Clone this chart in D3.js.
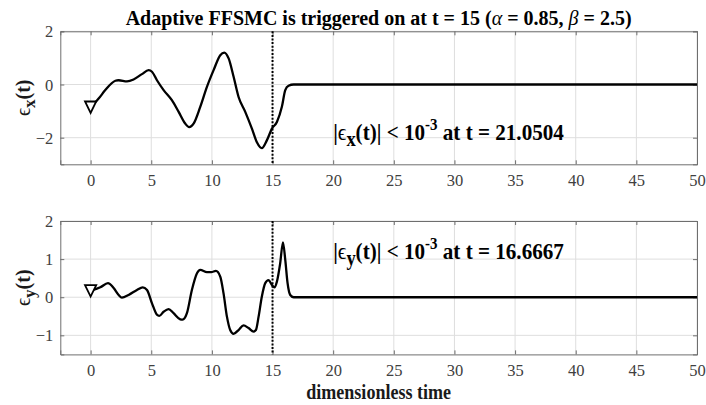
<!DOCTYPE html>
<html>
<head>
<meta charset="utf-8">
<script src="https://cdn.jsdelivr.net/npm/d3@7"></script>
<style>
  html, body { margin: 0; padding: 0; background: #fff; }
  svg { display: block; }
</style>
</head>
<body>
<svg id="chart" width="706" height="405"></svg>
<script>
// Tracking error in x: time samples and values
const tX = [0, 0.66, 1.21, 2.04, 2.31, 3.0, 3.54, 4.23, 4.78, 5.06,
            5.47, 6.02, 6.7, 7.26, 7.8, 8.13, 8.49, 9.04, 9.59, 10.14,
            10.69, 11.02, 11.38, 11.79, 12.2, 12.75, 13.3, 13.71, 14.12, 14.53,
            14.95, 15.36, 15.77, 16.05, 16.32, 16.74, 20, 30, 40, 50];
const errX = [-0.85, -0.53, -0.21, 0.14, 0.16, 0.12, 0.19, 0.39, 0.54, 0.48,
              0.16, -0.21, -0.59, -1.03, -1.47, -1.6, -1.47, -0.84, -0.09, 0.54,
              1.1, 1.2, 0.98, 0.29, -0.47, -1.03, -1.66, -2.17, -2.39, -2.1,
              -1.66, -1.41, -0.84, -0.21, -0.05, 0, 0, 0, 0, 0];

// Tracking error in y: time samples and values
const tY = [0, 0.8, 1.43, 1.9, 2.31, 2.58, 3.13, 3.82, 4.29, 4.65,
            5.06, 5.47, 5.66, 6.02, 6.43, 6.84, 7.39, 7.58, 7.94, 8.35,
            8.77, 9.04, 9.59, 9.95, 10.33, 10.69, 10.96, 11.24, 11.51, 11.79,
            12.2, 12.61, 13.02, 13.44, 13.63, 13.85, 14.12, 14.4, 14.67, 14.95,
            15.15, 15.36, 15.63, 15.86, 16.05, 16.24, 16.46, 16.74, 20, 30,
            40, 50];
const errY = [0.17, 0.26, 0.37, 0.24, 0.06, -0.01, 0.06, 0.19, 0.26, 0.19,
              -0.16, -0.46, -0.49, -0.38, -0.31, -0.42, -0.58, -0.59, -0.42, 0.19,
              0.63, 0.72, 0.66, 0.66, 0.69, 0.54, 0.1, -0.51, -0.86, -0.96,
              -0.86, -0.74, -0.81, -0.9, -0.86, -0.51, 0.02, 0.37, 0.45, 0.32,
              0.26, 0.41, 0.89, 1.44, 0.98, 0.37, 0.06, 0, 0, 0,
              0, 0];

// Axis settings
const xDomain = [-2.5, 50];
const xTicks = [0, 5, 10, 15, 20, 25, 30, 35, 40, 45, 50];
const yDomainX = [-3, 2];
const yTicksX = [-2, 0, 2];
const yDomainY = [-1.5, 2];
const yTicksY = [-1, 0, 1, 2];
const triggerTime = 15;

// Annotation anchors (data coordinates) and texts
const annotX = { t: 20, v: -2.07, value: "21.0504", sub: "x" };
const annotY = { t: 20, v: 1.0, value: "16.6667", sub: "y" };
const titleText = ["Adaptive FFSMC is triggered on at t = 15 (", "α", " = 0.85, ", "β", " = 2.5)"];
const xLabel = "dimensionless time";

// Pick installed serif faces (checked by measuring against a generic fallback)
function hasFont(name) {
  const ctx = document.createElement("canvas").getContext("2d");
  const s = "mmmmmmmmmmlliWWQ0123456789abcdefghij";
  let differs = false;
  ["monospace", "sans-serif"].forEach(base => {
    ctx.font = `40px ${base}`;
    const w0 = ctx.measureText(s).width;
    ctx.font = `40px "${name}", ${base}`;
    const w1 = ctx.measureText(s).width;
    if (Math.abs(w1 - w0) > 0.5) differs = true;
  });
  return differs;
}
const serifCandidates = ["Liberation Serif", "Times New Roman", "Tinos", "Nimbus Roman", "Nimbus Roman No9 L",
                         "FreeSerif", "DejaVu Serif", "Noto Serif", "Times"];
const found = serifCandidates.filter(hasFont);
const FONT = (found.length ? found.map(f => `"${f}"`).join(", ") + ", " : "") + "serif";

const svg = d3.select("#chart").style("font-family", FONT);
const X0 = 60.3, X1 = 697;
const x = d3.scaleLinear().domain(xDomain).range([X0, X1]);

const axisColor = "#6e6e6e";
const gridColor = "#dedede";
const tickTextColor = "#404040";

function panel(top, bottom, yDomain, yTicks, ts, vs, sub, annot) {
  const y = d3.scaleLinear().domain(yDomain).range([bottom, top]);
  const g = svg.append("g");

  // grid lines
  g.selectAll(".gx").data(xTicks).enter().append("line")
    .attr("x1", d => x(d)).attr("x2", d => x(d))
    .attr("y1", top).attr("y2", bottom)
    .attr("stroke", gridColor).attr("stroke-width", 1);
  g.selectAll(".gy").data(yTicks).enter().append("line")
    .attr("x1", X0).attr("x2", X1)
    .attr("y1", d => y(d)).attr("y2", d => y(d))
    .attr("stroke", gridColor).attr("stroke-width", 1);

  // axes with inward ticks on all four sides
  const bottomAxis = d3.axisBottom(x).tickValues(xTicks).tickSize(-4).tickPadding(10).tickFormat(d3.format("d"));
  const leftAxis = d3.axisLeft(y).tickValues(yTicks).tickSize(-4).tickPadding(7).tickFormat(d3.format("d"));
  const topAxis = d3.axisTop(x).tickValues(xTicks).tickSize(-4).tickFormat("");
  const rightAxis = d3.axisRight(y).tickValues(yTicks).tickSize(-4).tickFormat("");

  const ab = g.append("g").attr("transform", `translate(0,${bottom})`).call(bottomAxis);
  const al = g.append("g").attr("transform", `translate(${X0},0)`).call(leftAxis);
  const at = g.append("g").attr("transform", `translate(0,${top})`).call(topAxis);
  const ar = g.append("g").attr("transform", `translate(${X1},0)`).call(rightAxis);
  [ab, al, at, ar].forEach(a => {
    a.attr("font-family", FONT).attr("font-size", 16.5);
    a.select(".domain").attr("stroke", axisColor).attr("stroke-width", 1);
    a.selectAll(".tick line").attr("stroke", axisColor);
    a.selectAll("text").attr("fill", tickTextColor);
  });
  ab.selectAll("text").attr("dy", "0.71em");
  al.selectAll("text").attr("dy", "0.34em");

  // trigger line
  g.append("line")
    .attr("x1", x(triggerTime)).attr("x2", x(triggerTime))
    .attr("y1", top).attr("y2", bottom)
    .attr("stroke", "#000").attr("stroke-width", 2)
    .attr("stroke-dasharray", "2,1.6");

  // error curve
  const pts = ts.map((t, i) => [t, vs[i]]);
  const line = d3.line().x(d => x(d[0])).y(d => y(d[1])).curve(d3.curveMonotoneX);
  g.append("path").datum(pts)
    .attr("d", line)
    .attr("fill", "none").attr("stroke", "#000")
    .attr("stroke-width", 2.3).attr("stroke-linejoin", "round");

  // initial-condition marker (downward triangle)
  const mx = x(ts[0]), my = y(vs[0]);
  g.append("path")
    .attr("d", `M${mx - 5.6},${my - 5.6}L${mx + 5.6},${my - 5.6}L${mx},${my + 5.8}Z`)
    .attr("fill", "#fff").attr("stroke", "#000").attr("stroke-width", 1.8)
    .attr("stroke-linejoin", "miter");

  // y label, rotated
  const yl = svg.append("text")
    .attr("transform", `translate(30,${(top + bottom) / 2}) rotate(-90)`)
    .attr("text-anchor", "middle")
    .attr("fill", "#1a1a1a")
    .style("font-size", "20px").style("font-weight", "bold");
  yl.append("tspan").text("ϵ").style("font-weight", "normal");
  yl.append("tspan").text(sub).attr("dy", 5).style("font-size", "17px");
  yl.append("tspan").text("(t)").attr("dy", -5);

  // convergence annotation
  const ag = svg.append("g")
    .attr("transform", `translate(${x(annot.t)},${y(annot.v)}) scale(0.88,1)`);
  const at2 = ag.append("text").attr("fill", "#000")
    .style("font-size", "24px").style("font-weight", "bold");
  at2.append("tspan").text("|");
  at2.append("tspan").text("ϵ").style("font-weight", "normal");
  at2.append("tspan").text(annot.sub).attr("dy", 6).style("font-size", "21px");
  at2.append("tspan").text("(t)| < 10").attr("dy", -6);
  at2.append("tspan").text("-3").attr("dy", -10).style("font-size", "17px");
  at2.append("tspan").text(" at t = " + annot.value).attr("dy", 10);

  return y;
}

panel(31.3, 164.3, yDomainX, yTicksX, tX, errX, "x", annotX);
panel(221, 354.4, yDomainY, yTicksY, tY, errY, "y", annotY);

// title
const tt = svg.append("text")
  .attr("x", (X0 + X1) / 2).attr("y", 25)
  .attr("text-anchor", "middle").attr("fill", "#000")
  .style("font-size", "20px").style("font-weight", "bold");
titleText.forEach(s => {
  const sp = tt.append("tspan").text(s);
  if (s === "α" || s === "β") sp.style("font-style", "italic").style("font-weight", "normal");
});

// x label
svg.append("g")
  .attr("transform", `translate(${(X0 + X1) / 2},399) scale(0.86,1)`)
  .append("text")
  .attr("text-anchor", "middle").attr("fill", "#1a1a1a")
  .style("font-size", "21px").style("font-weight", "bold")
  .text(xLabel);
</script>
</body>
</html>
